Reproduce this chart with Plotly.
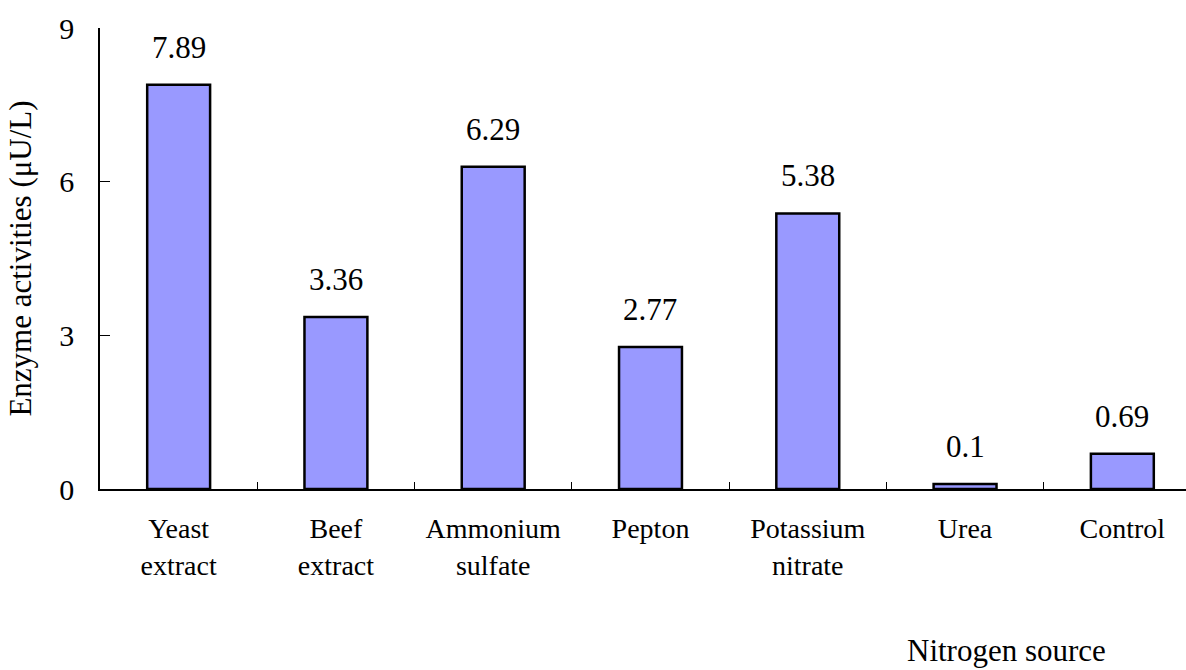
import plotly.graph_objects as go

categories = ["Yeast extract", "Beef extract", "Ammonium sulfate", "Pepton",
              "Potassium nitrate", "Urea", "Control"]
tick_labels = ["Yeast<br>extract", "Beef<br>extract", "Ammonium<br>sulfate", "Pepton",
               "Potassium<br>nitrate", "Urea", "Control"]
values = [7.89, 3.36, 6.29, 2.77, 5.38, 0.1, 0.69]
value_labels = ["7.89", "3.36", "6.29", "2.77", "5.38", "0.1", "0.69"]
y_ticks = [0, 3, 6, 9]

FONT = "Liberation Serif"
L, T, B_AX, W, H = 100, 28, 489, 1186, 670

fig = go.Figure()
fig.add_trace(go.Bar(
    x=categories, y=values, width=0.4,
    marker=dict(color="#9999FF", line=dict(color="black", width=2.5)),
    hoverinfo="skip",
))

for c, v, t in zip(categories, values, value_labels):
    fig.add_annotation(x=c, y=v, text=t, showarrow=False, xref="x", yref="y",
                       xanchor="center", yanchor="bottom", yshift=18,
                       font=dict(family=FONT, size=31, color="black"))

fig.add_annotation(x=(1006 - L) / (W - L), y=-(650 - B_AX) / (B_AX - T),
                   xref="paper", yref="paper", text="Nitrogen source",
                   xanchor="center", yanchor="middle",
                   showarrow=False, font=dict(family=FONT, size=31, color="black"))

fig.update_layout(
    width=W, height=H,
    margin=dict(l=L, r=0, t=T, b=H - B_AX, pad=0, autoexpand=False),
    plot_bgcolor="white", paper_bgcolor="white",
    showlegend=False,
    font=dict(family=FONT, size=28, color="black"),
)

fig.update_xaxes(
    type="category", automargin=False,
    range=[-0.5, 6.5 - (1201 - 1186) / 157.4],
    tickmode="array", tickvals=categories, ticktext=tick_labels,
    tickson="boundaries", ticks="inside", ticklen=7, tickwidth=1, tickcolor="black",
    showline=True, linecolor="black", linewidth=1.5,
    showgrid=False, zeroline=False,
    tickfont=dict(family=FONT, size=28, color="black"),
    ticklabelstandoff=14,
)
fig.update_yaxes(
    range=[0, 9], tickvals=y_ticks, automargin=False,
    ticks="inside", ticklen=10, tickwidth=1, tickcolor="black",
    showline=True, linecolor="black", linewidth=1.5,
    showgrid=False, zeroline=False,
    tickfont=dict(family=FONT, size=30, color="black"),
    ticklabelstandoff=18,
    title=dict(text="Enzyme activities (μU/L)", standoff=18,
               font=dict(family=FONT, size=31, color="black")),
)

fig.write_html("out.html", config={"displayModeBar": False})

# remove the browser's default 8px body margin so the figure sits at the page origin
with open("out.html", encoding="utf-8") as f:
    html = f.read()
html = html.replace("<head>", "<head><style>html,body{margin:0;padding:0;overflow:hidden;}</style>", 1)
with open("out.html", "w", encoding="utf-8") as f:
    f.write(html)
